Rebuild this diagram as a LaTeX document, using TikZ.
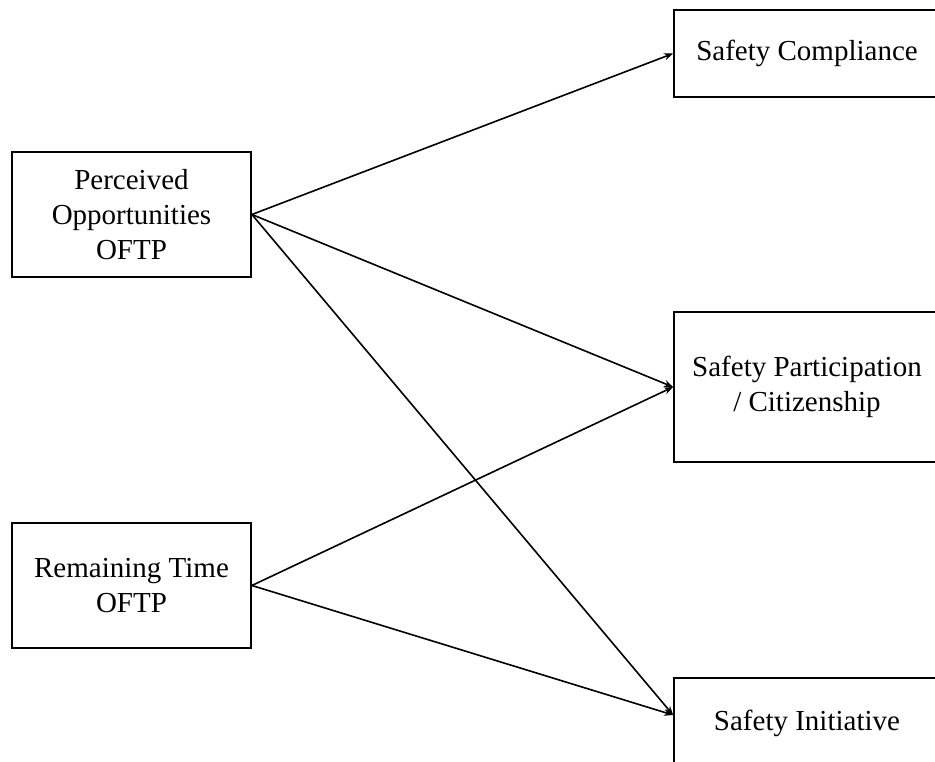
\documentclass[tikz,border=0pt]{standalone}
\usepackage{fontspec}
\setmainfont{Liberation Serif}
\usetikzlibrary{arrows.meta}
\begin{document}
\begin{tikzpicture}[x=1pt,y=-1pt,
  box/.style={draw=black,line width=1.8pt,fill=white,align=center,inner sep=0pt,
    font=\fontsize{29}{35}\selectfont},
  conn/.style={line width=1.6pt,-{Stealth[length=9pt,width=7pt]}}]
\useasboundingbox (0,0) rectangle (935,762);
\clip (0,0) rectangle (935,762);
\fill[white] (0,0) rectangle (935,762);
\node[box,minimum width=239pt,minimum height=125pt] (po) at (131.5,214.5) {Perceived\\Opportunities\\OFTP};
\node[box,minimum width=239pt,minimum height=125pt] (rt) at (131.5,585.5) {Remaining Time\\OFTP};
\node[box,minimum width=266pt,minimum height=87pt] (sc) at (807,53.5) {Safety Compliance};
\node[box,minimum width=266pt,minimum height=150pt] (sp) at (807,387) {Safety Participation\\/ Citizenship};
\node[box,minimum width=266pt,minimum height=90pt] (si) at (807,723) {Safety Initiative};
\coordinate (sitip) at ([yshift=8pt]si.west);
\draw[conn] (po.east) -- (sc.west);
\draw[conn] (po.east) -- (sp.west);
\draw[conn] (po.east) -- (sitip);
\draw[conn] (rt.east) -- (sp.west);
\draw[conn] (rt.east) -- (sitip);
\end{tikzpicture}
\end{document}
